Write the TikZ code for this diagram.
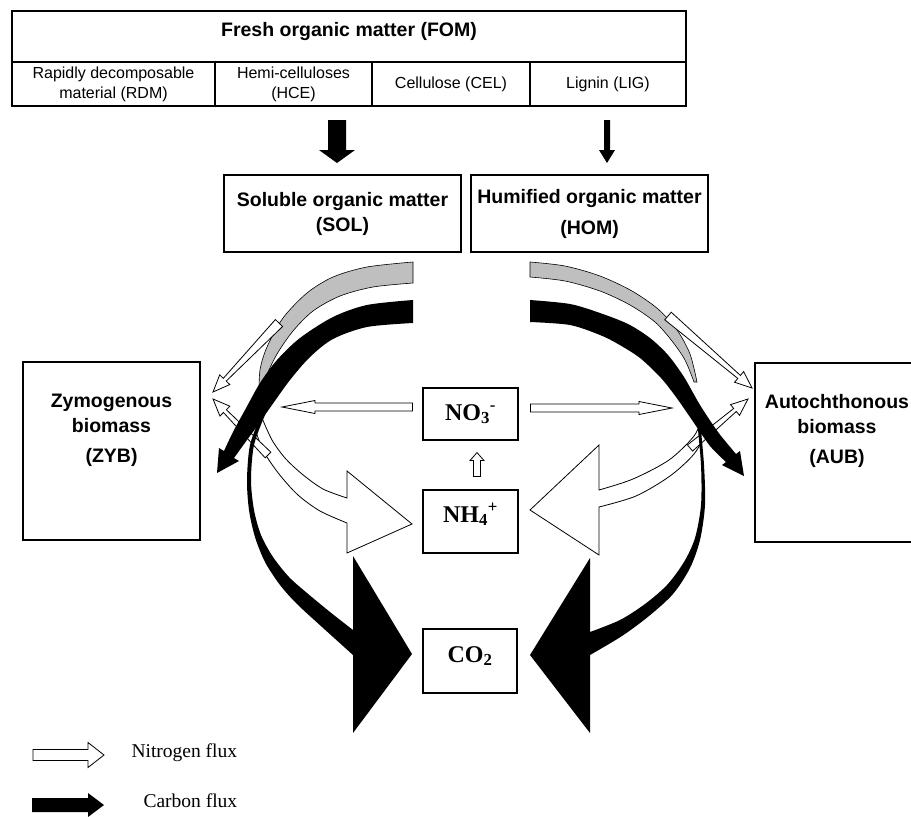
\documentclass[tikz,border=0pt]{standalone}
\usepackage{fontspec}
\setmainfont{Liberation Serif}
\setsansfont{Liberation Sans}
\usetikzlibrary{calc}
% #1 style, #2 start, #3 tip, #4 start half-width, #5 shaft half-width at head, #6 head half-width, #7 head length
\newcommand{\flowarrow}[7]{%
  \coordinate (fa-h) at ($(#3)!#7!(#2)$);
  \path[#1] ($(#2)!#4!90:(#3)$) -- ($(fa-h)!#5!90:(#3)$) -- ($(fa-h)!#6!90:(#3)$) -- (#3)
    -- ($(fa-h)!#6!-90:(#3)$) -- ($(fa-h)!#5!-90:(#3)$) -- ($(#2)!#4!-90:(#3)$) -- cycle;}
\tikzset{
  box/.style={draw, line width=1.1pt, rectangle, inner sep=0pt},
  lbl/.style={font=\sffamily\bfseries\fontsize{19.5}{25}\selectfont, align=center},
  cell/.style={box, font=\sffamily\fontsize{16}{20}\selectfont, align=center},
  chem/.style={font=\bfseries\fontsize{24}{28}\selectfont, anchor=base},
  nflux/.style={draw=black, line width=0.8pt, fill=white},
  cflux/.style={fill=black},
  gflux/.style={draw=black, line width=0.6pt, fill=black!25},
  legtxt/.style={font=\fontsize{19.5}{23}\selectfont, anchor=base west},
}
\begin{document}
\begin{tikzpicture}[x=1pt,y=-1pt]
\useasboundingbox (0,0) rectangle (911,817);
\clip (0,0) rectangle (911,817);
\fill[white] (0,0) rectangle (911,817);

% ---- Fresh organic matter table
\node[box, minimum width=674pt, minimum height=51pt] (fom) at (349,36.5) {};
\node[lbl, anchor=base] (fomt) at (349,36) {Fresh organic matter (FOM)};
\node[cell, minimum width=203pt, minimum height=44pt] (rdm) at (113.5,84) {Rapidly decomposable\\material (RDM)};
\node[cell, minimum width=157pt, minimum height=44pt] (hce) at (293.5,84) {Hemi-celluloses\\(HCE)};
\node[cell, minimum width=158pt, minimum height=44pt] (cel) at (451,84) {Cellulose (CEL)};
\node[cell, minimum width=156pt, minimum height=44pt] (lig) at (608,84) {Lignin (LIG)};

% ---- pools
\node[box, lbl, minimum width=237pt, minimum height=77pt] (sol) at (342.5,213.5) {Soluble organic matter\\(SOL)};
\node[box, lbl, minimum width=237pt, minimum height=77pt] (hom) at (589.5,213.5) {Humified organic matter\\[6pt](HOM)};
\node[box, minimum width=177pt, minimum height=178pt] (zyb) at (111.5,451) {};
\node[lbl] (zybt) at (111.5,430) {Zymogenous\\biomass\\[5pt](ZYB)};
\node[box, minimum width=177pt, minimum height=179pt] (aub) at (843.5,452.5) {};
\node[lbl] (aubt) at (837,431) {Autochthonous\\biomass\\[5pt](AUB)};
\node[box, minimum width=95pt, minimum height=52pt] (no3) at (470.5,414) {};
\node[chem] (no3t) at (470.5,420) {NO\textsubscript{3}\textsuperscript{-}};
\node[box, minimum width=95pt, minimum height=63pt] (nh4) at (470.5,521.5) {};
\node[chem] (nh4t) at (470.5,522) {NH\textsubscript{4}\textsuperscript{+}};
\node[box, minimum width=94pt, minimum height=64pt] (co2) at (470,661) {};
\node[chem] (co2t) at (470,662) {CO\textsubscript{2}};

% ---- arrows from FOM
\coordinate (a1s) at (337,120); \coordinate (a1e) at (337,163);
\flowarrow{cflux}{a1s}{a1e}{9pt}{9pt}{18pt}{13pt}
\coordinate (a2s) at (607,120); \coordinate (a2e) at (607,163);
\flowarrow{cflux}{a2s}{a2e}{3pt}{3pt}{8pt}{13pt}

% ---- grey bands
\path[gflux] plot[smooth] coordinates {(413,262) (367,267) (333,277) (307,293) (283,318) (267,347) (260,370) (259,395)}
  -- plot[smooth] coordinates {(261,395) (266,377) (277,354) (293,331) (313,311) (340,296) (373,287) (413,283)} -- cycle;
\path[gflux] plot[smooth] coordinates {(530,262) (565,266) (600,276) (632,291) (658,309) (677,330) (690,354) (697,382)}
  -- plot[smooth] coordinates {(694,382) (685,360) (672,341) (655,322) (630,305) (600,291) (565,281) (530,277)} -- cycle;

% ---- thin nitrogen arrows to biomasses
\coordinate (lna) at (279,323); \coordinate (lnat) at (213,392);
\flowarrow{nflux}{lna}{lnat}{5pt}{2pt}{7pt}{17pt}
\coordinate (rna) at (668,316); \coordinate (rnat) at (752,388);
\flowarrow{nflux}{rna}{rnat}{5pt}{2pt}{7pt}{17pt}

% ---- big nitrogen arrows to NH4
\path[nflux] plot[smooth] coordinates {(262,418) (272,440) (285,458) (302,474) (323,489) (347,498)}
  -- (347,471) -- (412,524) -- (347,553) -- (347,523)
  -- plot[smooth] coordinates {(347,523) (320,511) (298,495) (279,474) (264,452) (256,432)} -- cycle;
\path[nflux] plot[smooth] coordinates {(703,416) (694,436) (669,460) (633,479) (599,490)}
  -- (599,445) -- (530,510) -- (599,555) -- (599,507)
  -- plot[smooth] coordinates {(599,507) (636,496) (670,476) (694,454) (708,430)} -- cycle;

\coordinate (lnb) at (268,455); \coordinate (lnbt) at (213,399);
\flowarrow{nflux}{lnb}{lnbt}{4pt}{2pt}{7pt}{17pt}
\coordinate (rnb) at (690,448); \coordinate (rnbt) at (748,399);
\flowarrow{nflux}{rnb}{rnbt}{4pt}{2pt}{7pt}{17pt}

% ---- horizontal nitrogen arrows from NO3 and NH4 -> NO3
\coordinate (no3l) at ($(no3.west)+(-10,-7)$); \coordinate (lt) at (282,407);
\flowarrow{nflux}{no3l}{lt}{4pt}{4pt}{6.5pt}{33pt}
\coordinate (no3r) at ($(no3.east)+(12,-6)$); \coordinate (rt) at (672,408);
\flowarrow{nflux}{no3r}{rt}{4pt}{4pt}{6.5pt}{33pt}
\coordinate (nh4u) at ($(nh4.north)+(6.5,-13)$); \coordinate (no3d) at ($(no3.south)+(6.5,12)$);
\flowarrow{nflux}{nh4u}{no3d}{3.5pt}{3.5pt}{7pt}{8pt}

% ---- black carbon bands
\path[cflux] plot[smooth] coordinates {(413,300) (367,305) (333,317) (300,338) (277,360) (260,383) (245,410) (233,432) (224,451)}
  -- (219,448) -- (217,473) -- (239,461) -- (234,458)
  -- plot[smooth] coordinates {(234,458) (247,440) (258,425) (272,405) (290,380) (310,357) (333,339) (367,327) (413,323)} -- cycle;
\path[cflux] plot[smooth] coordinates {(530,300) (570,304) (600,313) (628,324) (650,338) (668,355) (684,377) (700,405) (718,432) (736,454)}
  -- (740,451) -- (744,476) -- (722,465) -- (726,462)
  -- plot[smooth] coordinates {(726,462) (710,446) (692,420) (676,397) (661,378) (640,358) (618,344) (600,335) (570,325) (530,322)} -- cycle;
\path[cflux] plot[smooth] coordinates {(261,415) (250,445) (247,480) (249,510) (255,537) (265,562) (280,585) (297,604) (322,627) (353,655)}
  -- (353,733) -- (412,654) -- (353,556) -- (353,630)
  -- plot[smooth] coordinates {(353,630) (330,612) (307,593) (289,577) (273,557) (261,535) (254,510) (251,480) (254,445) (265,415)} -- cycle;
\path[cflux] plot[smooth] coordinates {(700,420) (704,465) (705,505) (700,540) (690,568) (673,594) (649,616) (622,636) (590,655)}
  -- (590,733) -- (530,655) -- (590,558) -- (590,632)
  -- plot[smooth] coordinates {(590,632) (620,620) (645,604) (667,585) (684,562) (695,538) (701,505) (701,465) (697,420)} -- cycle;

% ---- legend
\coordinate (ln1) at (33,755); \coordinate (ln2) at (104,755);
\flowarrow{nflux}{ln1}{ln2}{5.5pt}{5.5pt}{12.5pt}{16pt}
\node[legtxt] (nlab) at (128,757) {Nitrogen flux};
\coordinate (lc1) at (32,805); \coordinate (lc2) at (104,805);
\flowarrow{cflux}{lc1}{lc2}{7pt}{7pt}{12pt}{16pt}
\node[legtxt] (clab) at (140,807) {Carbon flux};
\end{tikzpicture}
\end{document}
